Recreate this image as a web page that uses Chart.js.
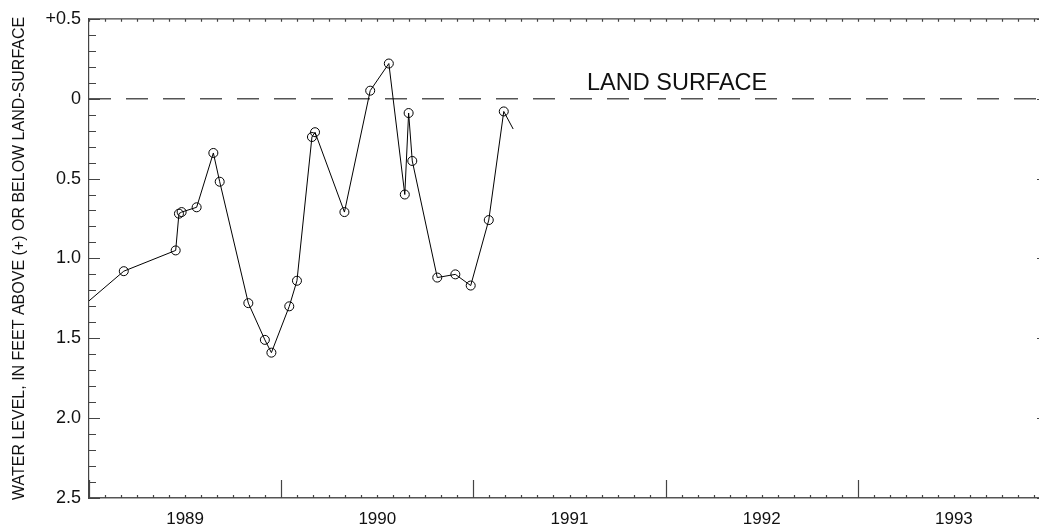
<!DOCTYPE html>
<html>
<head>
<meta charset="utf-8">
<script src="https://cdn.jsdelivr.net/npm/chart.js@4"></script>
<style>
  html, body { margin: 0; padding: 0; background: #fff; overflow: hidden; }
  #clip { width: 1039px; height: 525px; overflow: hidden; position: relative; }
  #box { width: 1050px; height: 525px; position: absolute; left: 0; top: 0; }
  canvas { display: block; }
</style>
</head>
<body>
<div id="clip"><div id="box"><canvas id="wellChart" width="1050" height="525"></canvas></div></div>
<script>
// Well hydrograph, water level vs land surface

// Data sets (decimal year, feet below land surface; negative = above)
const sampleDates = [1988.85, 1989.181, 1989.451, 1989.468, 1989.482, 1989.560, 1989.647, 1989.680,
  1989.829, 1989.915, 1989.949, 1990.042, 1990.082, 1990.160, 1990.176, 1990.329, 1990.463,
  1990.560, 1990.643, 1990.663, 1990.682, 1990.812, 1990.906, 1990.986, 1991.080, 1991.158, 1991.207];
const waterLevels = [1.42, 1.08, 0.95, 0.72, 0.71, 0.68, 0.34, 0.52,
  1.28, 1.51, 1.59, 1.30, 1.14, 0.24, 0.21, 0.71, -0.05,
  -0.22, 0.60, 0.09, 0.39, 1.12, 1.10, 1.17, 0.76, 0.08, 0.19];

const yearLabels = ["1989", "1990", "1991", "1992", "1993"];
const levelTicks = [-0.5, 0, 0.5, 1.0, 1.5, 2.0, 2.5];
const landSurface = 0;

const firstYear = Number(yearLabels[0]);
const lastYear = firstYear + yearLabels.length;
const FONT = "'Liberation Sans', Helvetica, Arial, sans-serif";

// inward tick marks, top border, right axis and the LAND SURFACE label
const frame = {
  id: "frame",
  afterDraw(chart) {
    const { ctx, chartArea: a, scales: { x, y } } = chart;
    ctx.save();
    ctx.strokeStyle = "#444";
    ctx.lineWidth = 1.2;
    ctx.beginPath();
    ctx.moveTo(a.left, a.top); ctx.lineTo(a.right, a.top);
    ctx.moveTo(a.right, a.top); ctx.lineTo(a.right, a.bottom);
    // y ticks, every 0.1 ft
    const yMin = levelTicks[0], yMax = levelTicks[levelTicks.length - 1];
    for (let i = 0; i <= Math.round((yMax - yMin) * 10); i++) {
      const v = yMin + i / 10;
      const py = Math.round(y.getPixelForValue(v)) + 0.5;
      const major = i % 5 === 0;
      ctx.moveTo(a.left, py); ctx.lineTo(a.left + (major ? 11 : 7), py);
      ctx.moveTo(a.right, py); ctx.lineTo(a.right - (major ? 13 : 7), py);
    }
    // x ticks: years long, months short
    for (let yr = firstYear; yr <= lastYear; yr++) {
      for (let m = 0; m < 12; m++) {
        const px = Math.round(x.getPixelForValue(yr + m / 12)) + 0.5;
        if (px > a.right) break;
        const len = m === 0 ? 18 : 3;
        ctx.moveTo(px, a.bottom); ctx.lineTo(px, a.bottom - len);
        ctx.moveTo(px, a.top); ctx.lineTo(px, a.top + 3);
      }
    }
    ctx.stroke();

    ctx.fillStyle = "#111";
    ctx.font = "23.5px " + FONT;
    ctx.textAlign = "center";
    ctx.textBaseline = "alphabetic";
    ctx.fillText("LAND SURFACE", x.getPixelForValue(1992.06), y.getPixelForValue(-0.056));
    ctx.restore();
  }
};

new Chart(document.getElementById("wellChart"), {
  type: "line",
  data: {
    datasets: [{
      label: "Water level",
      data: sampleDates.map((d, i) => ({ x: d, y: waterLevels[i] })),
      borderColor: "#000",
      borderWidth: 1,
      pointStyle: "circle",
      pointRadius: (c) => (c.dataIndex === sampleDates.length - 1 ? 0 : 4.5),
      pointBorderColor: "#000",
      pointBorderWidth: 1,
      pointBackgroundColor: "rgba(0,0,0,0)",
      tension: 0
    }, {
      label: "Land surface",
      data: [{ x: firstYear, y: landSurface }, { x: lastYear, y: landSurface }],
      borderColor: "#555",
      borderWidth: 1.5,
      borderDash: [22, 15],
      pointRadius: 0
    }]
  },
  options: {
    responsive: false,
    animation: false,
    devicePixelRatio: 1,
    // the frame runs past the right edge of the picture, as in the original
    layout: { autoPadding: false, padding: { top: 18, right: 0, left: 0, bottom: 0 } },
    plugins: { legend: { display: false }, tooltip: { enabled: false } },
    scales: {
      x: {
        type: "linear",
        min: firstYear,
        max: lastYear,
        afterFit: (s) => { s.height = 27; s.paddingLeft = 0; s.paddingRight = 0; },
        afterBuildTicks: (s) => { s.ticks = yearLabels.map((yl) => ({ value: Number(yl) + 0.5 })); },
        grid: { display: false, drawTicks: false },
        border: { display: true, color: "#555", width: 1.5 },
        ticks: {
          autoSkip: false,
          maxRotation: 0,
          padding: 11,
          color: "#111",
          font: { family: FONT, size: 17 },
          callback: (v) => yearLabels[Math.floor(v) - firstYear]
        }
      },
      y: {
        type: "linear",
        reverse: true,
        min: levelTicks[0],
        max: levelTicks[levelTicks.length - 1],
        afterFit: (s) => { s.width = 89; },
        afterBuildTicks: (s) => { s.ticks = levelTicks.map((v) => ({ value: v })); },
        grid: { display: false, drawTicks: false },
        border: { display: true, color: "#444", width: 1.2 },
        title: {
          display: true,
          text: "WATER LEVEL, IN FEET ABOVE (+) OR BELOW LAND-SURFACE",
          color: "#111",
          font: { family: FONT, size: 16 },
          padding: { top: 10, bottom: 0 }
        },
        ticks: {
          padding: 8,
          color: "#111",
          font: { family: FONT, size: 18 },
          callback: (v) => (v < 0 ? "+" + (-v).toFixed(1) : v === 0 ? "0" : v.toFixed(1))
        }
      }
    }
  },
  plugins: [frame]
});
</script>
</body>
</html>
